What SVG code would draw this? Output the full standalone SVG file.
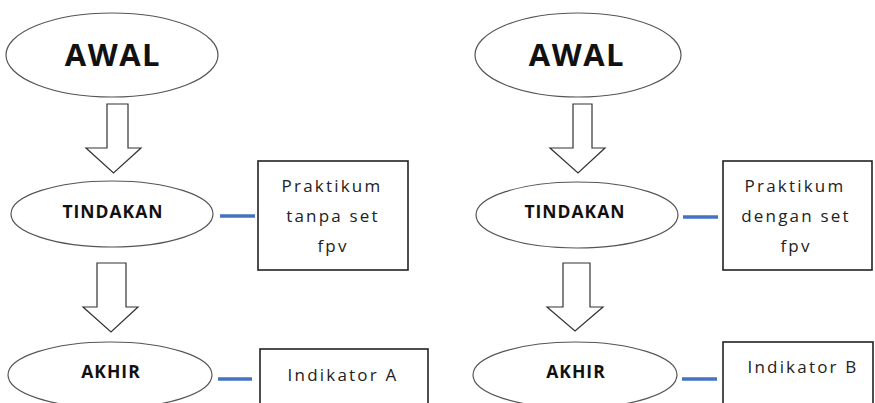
<svg xmlns="http://www.w3.org/2000/svg" width="875" height="403" viewBox="0 0 875 403">
<style>
.ell{fill:#fff;stroke:#555;stroke-width:1.2}
.box{fill:#fff;stroke:#222;stroke-width:1.6}
.arr{fill:#fff;stroke:#333;stroke-width:1.2;stroke-linejoin:miter}
.link{stroke:#4472C4;stroke-width:3.5}
.big{font-family:"Open Sans","Liberation Sans",sans-serif;font-weight:bold;font-size:31px;letter-spacing:1.5px;fill:#111;text-anchor:middle}
.mid{font-family:"Open Sans","Liberation Sans",sans-serif;font-weight:bold;font-size:17.5px;letter-spacing:1px;fill:#111;text-anchor:middle}
.reg{font-family:"Open Sans","Liberation Sans",sans-serif;font-size:17px;letter-spacing:2.2px;fill:#222;text-anchor:middle}
</style>
<rect width="875" height="403" fill="#fff"/>
<g id="connectors">
<polygon class="arr" points="107,104 128,104 128,148 141,148 113.5,173 86,148 107,148"/>
<polygon class="arr" points="97,263 126,263 126,307 138,307 111,332 83,307 97,307"/>
<polygon class="arr" points="573,104 592,104 592,148 605,148 578,173 550,148 573,148"/>
<polygon class="arr" points="563,263 590,263 590,307 603,307 575,331 547,307 563,307"/>
<line class="link" x1="220" y1="216" x2="255" y2="216"/>
<line class="link" x1="218" y1="379" x2="252" y2="379"/>
<line class="link" x1="683" y1="217" x2="718" y2="217"/>
<line class="link" x1="682" y1="379" x2="717" y2="379"/>
</g>
<g id="awal-a">
<ellipse class="ell" cx="112" cy="55" rx="106" ry="42"/>
<text class="big" x="113" y="66">AWAL</text>
</g>
<g id="tindakan-a">
<ellipse class="ell" cx="112" cy="214" rx="101" ry="33"/>
<text class="mid" x="113" y="218">TINDAKAN</text>
</g>
<g id="akhir-a">
<ellipse class="ell" cx="110" cy="375" rx="102" ry="33"/>
<text class="mid" x="111" y="378">AKHIR</text>
</g>
<g id="box-a1">
<rect class="box" x="258" y="161" width="150" height="109"/>
<text class="reg" x="332" y="192">Praktikum</text>
<text class="reg" x="333" y="222">tanpa set</text>
<text class="reg" x="333" y="252">fpv</text>
</g>
<g id="box-a2">
<rect class="box" x="260" y="349" width="168" height="60"/>
<text class="reg" x="343" y="381">Indikator A</text>
</g>
<g id="awal-b">
<ellipse class="ell" cx="578" cy="55" rx="103" ry="42"/>
<text class="big" x="577" y="66">AWAL</text>
</g>
<g id="tindakan-b">
<ellipse class="ell" cx="577" cy="215" rx="101" ry="33"/>
<text class="mid" x="575" y="218">TINDAKAN</text>
</g>
<g id="akhir-b">
<ellipse class="ell" cx="575" cy="375" rx="102" ry="33"/>
<text class="mid" x="576" y="378">AKHIR</text>
</g>
<g id="box-b1">
<rect class="box" x="723" y="161" width="149" height="109"/>
<text class="reg" x="795" y="192">Praktikum</text>
<text class="reg" x="796" y="222">dengan set</text>
<text class="reg" x="796" y="252">fpv</text>
</g>
<g id="box-b2">
<rect class="box" x="723" y="342" width="150" height="67"/>
<text class="reg" x="803" y="373">Indikator B</text>
</g>
</svg>
